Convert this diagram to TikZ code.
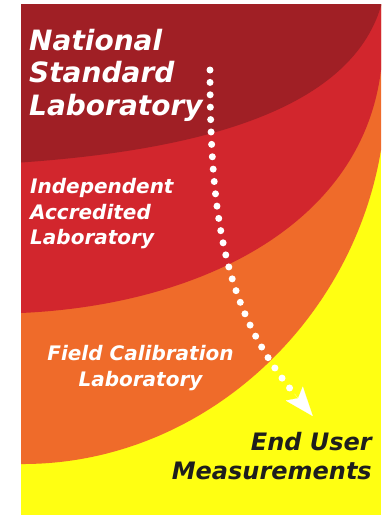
\documentclass[tikz,border=0pt]{standalone}
\usepackage{fontspec}
\setmainfont{DejaVu Sans}
\usetikzlibrary{arrows.meta}

\definecolor{natred}{HTML}{A01F25}
\definecolor{accred}{HTML}{D2262D}
\definecolor{fieldor}{HTML}{EF6B2A}
\definecolor{useryel}{HTML}{FFFF12}
\definecolor{darktext}{HTML}{1E1E1E}

\tikzset{
  tierlabel/.style={inner sep=0pt, text=white, font=\bfseries\itshape},
  userlabel/.style={inner sep=0pt, text=darktext, font=\bfseries\itshape},
  dotpath/.style={white, line width=7pt, line cap=round, dash pattern=on 0pt off 12.4pt},
  flowtip/.style={white, line width=0.1pt, -{Stealth[length=29pt, width=22pt, inset=6pt]}}
}

\begin{document}
\begin{tikzpicture}[x=1pt, y=-1pt]
  \useasboundingbox (0,0) rectangle (385,515);

  % nested tiers, from the outermost band inwards
  \fill[useryel] (21,4) rectangle (381,515);
  \fill[fieldor] (21,4) -- (21,464) .. controls (200,465) and (352,325) .. (381,150) -- (381,4) -- cycle;
  \fill[accred]  (21,4) -- (21,313) .. controls (200,305) and (362,225) .. (381,70) -- (381,4) -- cycle;
  \fill[natred]  (21,4) -- (21,162.5) .. controls (200,150) and (350,110) .. (381,6) -- (381,4) -- cycle;

  % tier labels (base anchor sits on the last line)
  \node[tierlabel, anchor=base west, align=left,
        font=\bfseries\itshape\fontsize{28}{32.5}\selectfont] (nsl) at (29,115)
        {National\\Standard\\Laboratory};
  \node[tierlabel, anchor=base west, align=left,
        font=\bfseries\itshape\fontsize{20}{25.5}\selectfont] (ial) at (30,244.7)
        {Independent\\Accredited\\Laboratory};
  \node[tierlabel, anchor=base, align=center,
        font=\bfseries\itshape\fontsize{20}{26}\selectfont] (fcl) at (140.5,386)
        {Field Calibration\\Laboratory};
  \node[userlabel, anchor=base east, align=right,
        font=\bfseries\itshape\fontsize{24}{29}\selectfont] (eum) at (372,479)
        {End User\\Measurements};

  % traceability flow: dotted path ending in an arrowhead
  \coordinate (flowstart) at (210,70);
  \coordinate (flowend)   at (293.6,393);
  \coordinate (tipback)   at (294.3,393.6);
  \coordinate (tip)       at (312.7,416);
  \draw[dotpath] (flowstart) .. controls (210,220) and (225,309) .. (flowend);
  \draw[flowtip] (tipback) -- (tip);
\end{tikzpicture}
\end{document}
